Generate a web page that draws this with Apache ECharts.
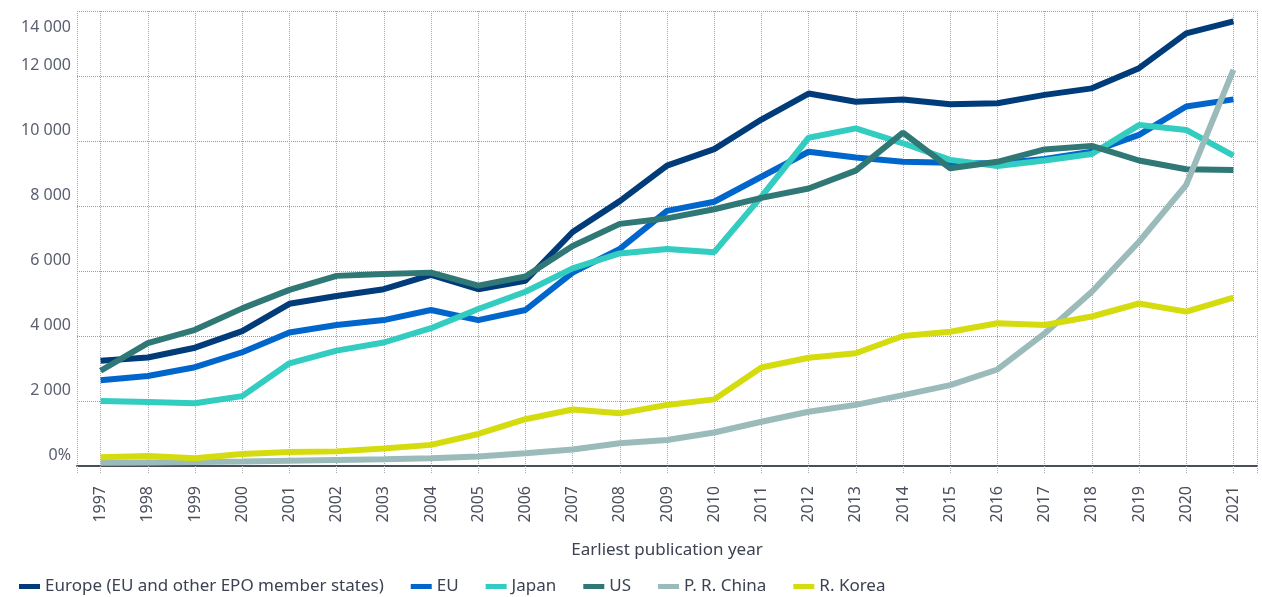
<!DOCTYPE html>
<html>
<head>
<meta charset="utf-8">
<script src="https://cdn.jsdelivr.net/npm/echarts@6/dist/echarts.min.js"></script>
<style>
  html, body { margin: 0; padding: 0; background: #fff; }
  #chart { width: 1262px; height: 597px; }
</style>
</head>
<body>
<div id="chart"></div>
<script>
// years on the x axis
const years = ['1997', '1998', '1999', '2000', '2001', '2002', '2003', '2004', '2005', '2006', '2007', '2008', '2009',
  '2010', '2011', '2012', '2013', '2014', '2015', '2016', '2017', '2018', '2019', '2020', '2021'];

// values
const europe = [3240, 3340, 3640, 4150, 4990, 5230, 5440, 5880, 5440, 5700, 7200, 8150, 9240,
  9750, 10660, 11460, 11210, 11280, 11130, 11160, 11420, 11620, 12240, 13310, 13680];
const eu = [2640, 2770, 3040, 3500, 4110, 4340, 4490, 4800, 4490, 4800, 5950, 6680, 7850,
  8130, 8900, 9670, 9490, 9360, 9330, 9310, 9450, 9670, 10190, 11060, 11280];
const japan = [2000, 1970, 1930, 2150, 3160, 3550, 3800, 4240, 4830, 5360, 6080, 6540, 6680,
  6580, 8290, 10100, 10390, 9930, 9420, 9230, 9400, 9600, 10490, 10340, 9550];
const us = [2930, 3780, 4190, 4850, 5420, 5850, 5910, 5950, 5550, 5830, 6770, 7450, 7620,
  7900, 8250, 8540, 9090, 10260, 9160, 9360, 9740, 9850, 9400, 9130, 9110];
const china = [100, 110, 120, 140, 165, 185, 205, 236, 290, 390, 510, 700, 800,
  1030, 1360, 1670, 1880, 2180, 2490, 2970, 4080, 5360, 6900, 8650, 12190];
const korea = [270, 310, 240, 370, 430, 450, 540, 650, 985, 1440, 1740, 1620, 1880,
  2050, 3030, 3330, 3470, 4000, 4130, 4390, 4340, 4600, 5000, 4750, 5180];

const names = ['Europe (EU and other EPO member states)', 'EU', 'Japan', 'US', 'P. R. China', 'R. Korea'];
const colors = ['#003b7a', '#0066cc', '#33ccc0', '#2f7876', '#9bbbbb', '#d5dc0e'];
const seriesData = [europe, eu, japan, us, china, korea];

// y tick labels
const yMax = 14000;
const yStep = 2000;
const fmt = (v) => (v === 0 ? '0%' : String(v).replace(/\B(?=(\d{3})+(?!\d))/g, ' '));

// half-year slots used only to place the dotted vertical grid lines
const halfSlots = Array.from({ length: years.length * 2 + 1 }, (_, i) => String(i));
const gridAt = (i) => i === 0 || i === halfSlots.length - 1 || i % 2 === 1;

const FONT = '"Noto Sans", sans-serif';
const chart = echarts.init(document.getElementById('chart'));

chart.setOption({
  animation: false,
  textStyle: { fontFamily: FONT },
  color: colors,
  grid: { left: 77, right: 5, top: 11, bottom: 131 },
  legend: {
    data: names,
    left: 14,
    top: 573,
    icon: 'rect',
    itemWidth: 21,
    itemHeight: 5,
    itemGap: 27,
    textStyle: { fontSize: 17, color: '#3c4252', fontFamily: FONT },
  },
  xAxis: [
    {
      type: 'category',
      data: years,
      boundaryGap: true,
      name: 'Earliest publication year',
      nameLocation: 'middle',
      nameGap: 76,
      nameTextStyle: { fontSize: 17, color: '#3c4252' },
      axisLine: { show: true, lineStyle: { color: '#4a4f5c', width: 2 } },
      axisTick: { show: false },
      splitLine: { show: false },
      axisLabel: { rotate: 90, margin: 20, fontSize: 16, color: '#4a4f5c' },
    },
    {
      type: 'category',
      data: halfSlots,
      boundaryGap: false,
      position: 'bottom',
      axisLine: { show: false },
      axisLabel: { show: false },
      axisTick: {
        show: true,
        interval: gridAt,
        inside: false,
        length: 7,
        lineStyle: { color: '#a8a8a8', type: 'dotted', width: 1 },
      },
      splitLine: {
        show: true,
        interval: gridAt,
        lineStyle: { color: '#a8a8a8', type: 'dotted', width: 1 },
      },
    },
  ],
  yAxis: [
    {
      type: 'value',
      min: 0,
      max: yMax,
      interval: yStep,
      axisLine: { show: false },
      axisTick: { show: false },
      splitLine: { show: true, lineStyle: { color: '#9a9a9a', type: 'dotted', width: 1 } },
      axisLabel: {
        formatter: (v) => (v === yMax ? '' : fmt(v)),
        fontSize: 16,
        color: '#5b6070',
        margin: 6,
        verticalAlign: 'bottom',
        lineHeight: 22,
      },
    },
    {
      type: 'value',
      position: 'left',
      min: 0,
      max: yMax,
      interval: yStep,
      axisLine: { show: false },
      axisTick: { show: false },
      splitLine: { show: false },
      axisLabel: {
        formatter: (v) => (v === yMax ? fmt(v) : ''),
        fontSize: 16,
        color: '#5b6070',
        margin: 6,
        verticalAlign: 'top',
        lineHeight: 32,
      },
    },
  ],
  series: names.map((name, i) => ({
    name: name,
    type: 'line',
    xAxisIndex: 0,
    yAxisIndex: 0,
    data: seriesData[i],
    symbol: 'none',
    lineStyle: { width: 6, color: colors[i] },
    itemStyle: { color: colors[i] },
  })),
});
</script>
</body>
</html>
